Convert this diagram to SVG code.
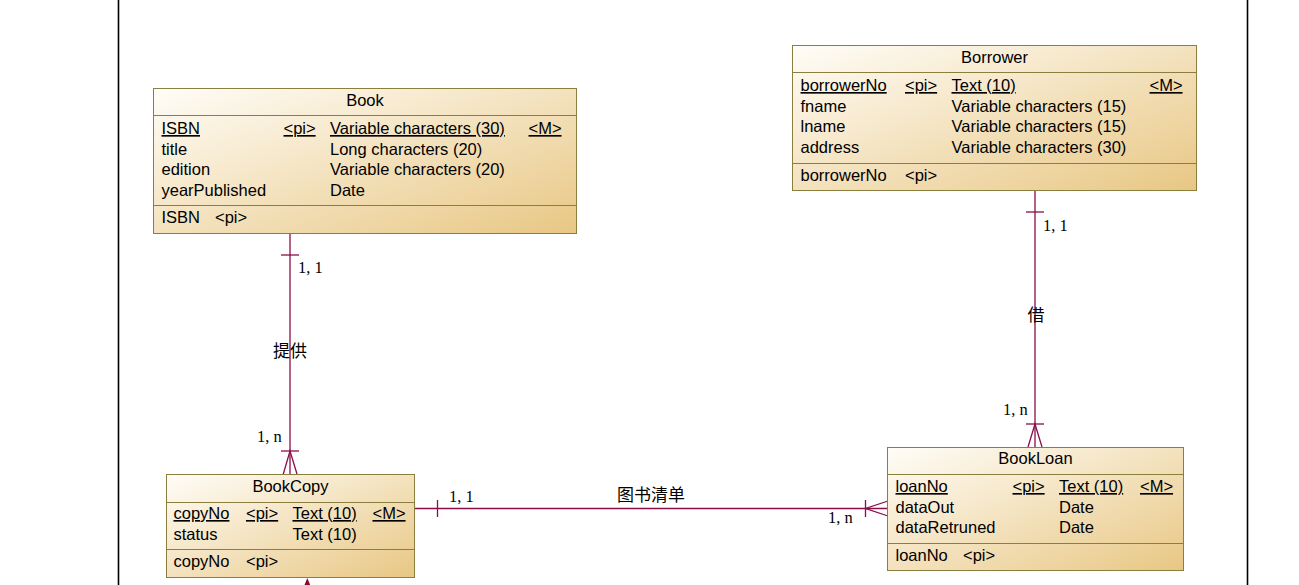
<svg xmlns="http://www.w3.org/2000/svg" width="1299" height="585" viewBox="0 0 1299 585">
<defs>
<linearGradient id="g" x1="0" y1="0" x2="1" y2="1">
<stop offset="0" stop-color="#fffdf8"/>
<stop offset="1" stop-color="#e8c784"/>
</linearGradient>
<style>
.box{fill:url(#g);stroke:#8a7f3f;stroke-width:1}
.sep{stroke:#8a7f3f;stroke-width:1}
.t{font-family:"Liberation Sans",Arial,sans-serif;font-size:16.5px;fill:#000}
.u{text-decoration:underline}
.c{text-anchor:middle}
.ln{stroke:#8b0d4b;stroke-width:1.3;fill:none}
.lb{font-family:"Liberation Serif",serif;font-size:16.5px;fill:#000}
.cj{font-family:"Noto Sans CJK SC",sans-serif;font-size:17px;fill:#000}
</style>
</defs>
<rect width="1299" height="585" fill="#fff"/>
<line x1="118.5" y1="0" x2="118.5" y2="585" stroke="#000" stroke-width="1.6"/>
<line x1="1247.5" y1="0" x2="1247.5" y2="585" stroke="#000" stroke-width="1.6"/>

<g id="connectors">
<line class="ln" x1="290" y1="234" x2="290" y2="474"/>
<line class="ln" x1="281" y1="255" x2="299" y2="255"/>
<line class="ln" x1="281" y1="451" x2="299" y2="451"/>
<polyline class="ln" points="283.3,474 290,451 297,474"/>
<text class="lb" x="298" y="273">1, 1</text>
<text class="cj" x="273" y="357">提供</text>
<text class="lb" x="257" y="442">1, n</text>
<line class="ln" x1="1035" y1="191" x2="1035" y2="447"/>
<line class="ln" x1="1026" y1="212" x2="1044" y2="212"/>
<line class="ln" x1="1026" y1="424" x2="1044" y2="424"/>
<polyline class="ln" points="1028,447 1035,424 1042,447"/>
<text class="lb" x="1043" y="231">1, 1</text>
<text class="cj" x="1027.5" y="321">借</text>
<text class="lb" x="1003" y="415">1, n</text>
<line class="ln" x1="414" y1="508.5" x2="888" y2="508.5"/>
<line class="ln" x1="437.5" y1="500" x2="437.5" y2="517"/>
<line class="ln" x1="865.5" y1="500" x2="865.5" y2="517"/>
<polyline class="ln" points="888,501 865.5,508.5 888,516"/>
<text class="lb" x="449" y="502">1, 1</text>
<text class="cj" x="617" y="501">图书清单</text>
<text class="lb" x="828" y="523">1, n</text>
<polygon points="307.3,578 304.5,585 310.2,585" fill="#8b0a2a"/>
</g>

<g id="Book">
<rect class="box" x="153.5" y="88.5" width="423" height="145"/>
<line class="sep" x1="153.5" y1="115.5" x2="576.5" y2="115.5"/>
<line class="sep" x1="153.5" y1="205.5" x2="576.5" y2="205.5"/>
<text class="t c" x="365" y="106">Book</text>
<text class="t u" x="161.5" y="134">ISBN</text>
<text class="t u" x="283.5" y="134">&lt;pi&gt;</text>
<text class="t u" x="330" y="134">Variable characters (30)</text>
<text class="t u" x="528.5" y="134">&lt;M&gt;</text>
<text class="t" x="161.5" y="154.5">title</text>
<text class="t" x="330" y="154.5">Long characters (20)</text>
<text class="t" x="161.5" y="175">edition</text>
<text class="t" x="330" y="175">Variable characters (20)</text>
<text class="t" x="161.5" y="195.5">yearPublished</text>
<text class="t" x="330" y="195.5">Date</text>
<text class="t" x="161.5" y="223">ISBN</text>
<text class="t" x="215" y="223">&lt;pi&gt;</text>
</g>

<g id="Borrower">
<rect class="box" x="792.5" y="45.5" width="404" height="145"/>
<line class="sep" x1="792.5" y1="72.5" x2="1196.5" y2="72.5"/>
<line class="sep" x1="792.5" y1="163.5" x2="1196.5" y2="163.5"/>
<text class="t c" x="994.5" y="63">Borrower</text>
<text class="t u" x="800.5" y="91">borrowerNo</text>
<text class="t u" x="905" y="91">&lt;pi&gt;</text>
<text class="t u" x="951.5" y="91">Text (10)</text>
<text class="t u" x="1149.5" y="91">&lt;M&gt;</text>
<text class="t" x="800.5" y="111.5">fname</text>
<text class="t" x="951.5" y="111.5">Variable characters (15)</text>
<text class="t" x="800.5" y="132">lname</text>
<text class="t" x="951.5" y="132">Variable characters (15)</text>
<text class="t" x="800.5" y="152.5">address</text>
<text class="t" x="951.5" y="152.5">Variable characters (30)</text>
<text class="t" x="800.5" y="180.5">borrowerNo</text>
<text class="t" x="905" y="180.5">&lt;pi&gt;</text>
</g>

<g id="BookCopy">
<rect class="box" x="166.5" y="474.5" width="248" height="103"/>
<line class="sep" x1="166.5" y1="502.5" x2="414.5" y2="502.5"/>
<line class="sep" x1="166.5" y1="549.5" x2="414.5" y2="549.5"/>
<text class="t c" x="290.5" y="492">BookCopy</text>
<text class="t u" x="173.5" y="519">copyNo</text>
<text class="t u" x="246" y="519">&lt;pi&gt;</text>
<text class="t u" x="292.5" y="519">Text (10)</text>
<text class="t u" x="372.5" y="519">&lt;M&gt;</text>
<text class="t" x="173.5" y="539.5">status</text>
<text class="t" x="292.5" y="539.5">Text (10)</text>
<text class="t" x="173.5" y="567">copyNo</text>
<text class="t" x="246" y="567">&lt;pi&gt;</text>
</g>

<g id="BookLoan">
<rect class="box" x="887.5" y="447.5" width="296" height="123"/>
<line class="sep" x1="887.5" y1="474.5" x2="1183.5" y2="474.5"/>
<line class="sep" x1="887.5" y1="543.5" x2="1183.5" y2="543.5"/>
<text class="t c" x="1035.5" y="464">BookLoan</text>
<text class="t u" x="895.5" y="492">loanNo</text>
<text class="t u" x="1012.5" y="492">&lt;pi&gt;</text>
<text class="t u" x="1059" y="492">Text (10)</text>
<text class="t u" x="1140" y="492">&lt;M&gt;</text>
<text class="t" x="895.5" y="512.5">dataOut</text>
<text class="t" x="1059" y="512.5">Date</text>
<text class="t" x="895.5" y="533">dataRetruned</text>
<text class="t" x="1059" y="533">Date</text>
<text class="t" x="895.5" y="561">loanNo</text>
<text class="t" x="963" y="561">&lt;pi&gt;</text>
</g>
</svg>
